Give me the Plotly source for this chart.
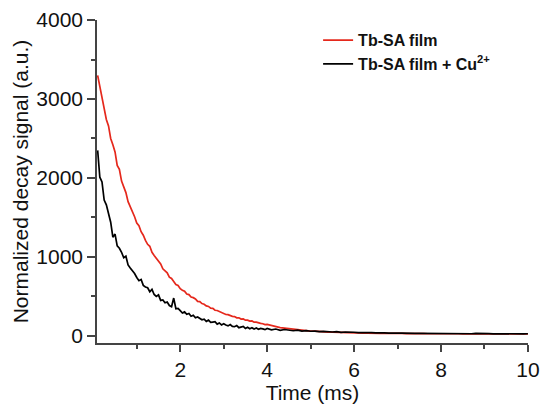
import plotly.graph_objects as go

# time axis (ms): 0.05 ms steps up to 4 ms, then 0.1 ms steps
time_ms = [round(0.1 + 0.05 * i, 2) for i in range(79)] + \
          [round(4.1 + 0.1 * i, 1) for i in range(60)]

red_film = [
    3300, 3150, 3020, 2900, 2740, 2660, 2500, 2420, 2330, 2160,
    2110, 1960, 1880, 1815, 1700, 1640, 1560, 1510, 1430, 1395,
    1320, 1275, 1210, 1160, 1135, 1060, 1020, 985, 935, 912,
    850, 830, 800, 745, 728, 690, 652, 640, 598, 580,
    566, 530, 524, 492, 485, 468, 438, 436, 410, 402,
    381, 374, 352, 350, 326, 322, 310, 292, 290, 272,
    270, 256, 248, 246, 230, 230, 214, 216, 200, 200,
    188, 190, 174, 176, 163, 160, 155, 144, 146,
    131, 118, 106, 99, 92, 84, 80, 73, 69, 62,
    61, 55, 56, 49, 48, 45, 46, 40, 41, 38,
    38, 36, 37, 33, 35, 33, 32, 34, 31, 31,
    32, 29, 31, 30, 28, 31, 28, 29, 29, 27,
    29, 27, 28, 28, 26, 29, 26, 27, 27, 26,
    27, 26, 27, 25, 27, 26, 25, 27, 25, 26,
]

black_cu = [
    2350, 2010, 1950, 1720, 1660, 1530, 1440, 1250, 1290, 1140,
    1110, 1060, 990, 1010, 900, 860, 830, 790, 740, 700,
    715, 640, 620, 610, 560, 590, 525, 500, 520, 450,
    455, 420, 430, 385, 370, 480, 345, 350, 320, 290,
    305, 275, 285, 250, 262, 230, 240, 222, 205, 212,
    185, 200, 172, 176, 180, 150, 165, 140, 155, 138,
    128, 145, 120, 118, 132, 105, 112, 120, 95, 110,
    92, 105, 88, 100, 84, 96, 90, 80, 95,
    78, 88, 72, 82, 74, 66, 75, 62, 68, 60,
    62, 55, 58, 52, 50, 55, 46, 50, 44, 47,
    42, 45, 40, 43, 38, 41, 39, 36, 40, 35,
    36, 33, 37, 32, 34, 33, 31, 35, 30, 32,
    31, 29, 33, 28, 31, 30, 28, 32, 28, 30,
    29, 27, 31, 27, 28, 30, 26, 29, 27, 28,
]

x_ticks = [2, 4, 6, 8, 10]
x_minor = [1, 3, 5, 7, 9]
y_ticks = [0, 1000, 2000, 3000, 4000]
y_minor = [500, 1500, 2500, 3500]

FONT = "Liberation Sans, Arial, sans-serif"
AXC = "#444444"
TXT = "#111111"
FS = 21

fig = go.Figure()
fig.add_trace(go.Scatter(x=time_ms, y=red_film, mode="lines",
                         name="Tb-SA film",
                         line=dict(color="#e5281c", width=1.7)))
fig.add_trace(go.Scatter(x=time_ms, y=black_cu, mode="lines",
                         name="Tb-SA film + Cu<sup>2+</sup>",
                         line=dict(color="#000000", width=1.7)))

fig.update_layout(
    width=540, height=404,
    margin=dict(l=97, r=12, t=20, b=61),
    paper_bgcolor="white", plot_bgcolor="white",
    font=dict(family=FONT, size=FS, color=TXT),
    showlegend=True,
    legend=dict(x=0.513, y=0.99, xanchor="left", yanchor="top",
                bgcolor="rgba(0,0,0,0)", itemwidth=30,
                font=dict(family=FONT, size=16, color=TXT, weight="bold"),
                tracegroupgap=0),
)
fig.update_xaxes(
    range=[0.085, 10.002], tickvals=x_ticks, ticktext=[str(v) for v in x_ticks],
    showline=True, linecolor=AXC, linewidth=1.5, mirror=False,
    ticks="outside", ticklen=7, tickwidth=1.5, tickcolor=AXC,
    minor=dict(tickvals=x_minor, ticks="outside", ticklen=4,
               tickwidth=1.5, tickcolor=AXC),
    showgrid=False, zeroline=False, automargin=False,
    tickfont=dict(size=FS),
    title=dict(text="Time (ms)", font=dict(size=FS), standoff=4),
)
fig.update_yaxes(
    range=[-89, 4000], tickvals=y_ticks, ticktext=[str(v) for v in y_ticks],
    showline=True, linecolor=AXC, linewidth=1.5, mirror=False,
    ticks="outside", ticklen=8, tickwidth=1.5, tickcolor=AXC,
    minor=dict(tickvals=y_minor, ticks="outside", ticklen=4,
               tickwidth=1.5, tickcolor=AXC),
    showgrid=False, zeroline=False, automargin=False,
    tickfont=dict(size=FS),
    title=dict(text="Normalized decay signal (a.u.)", font=dict(size=FS), standoff=2),
)

fig.write_html("out.html")
